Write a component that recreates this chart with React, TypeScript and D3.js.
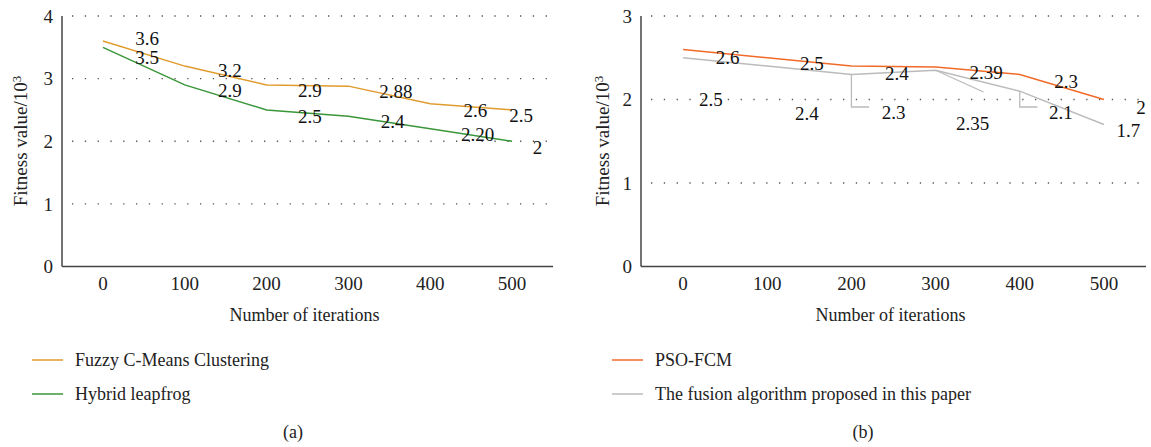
import React from "react";
import * as d3 from "d3";

const iterations = [0, 100, 200, 300, 400, 500];
const xTicks = [0, 100, 200, 300, 400, 500];

// Panel (a)
const fcmValues = [3.6, 3.2, 2.9, 2.88, 2.6, 2.5];
const leapfrogValues = [3.5, 2.9, 2.5, 2.4, 2.2, 2.0];
const yTicksA = [0, 1, 2, 3, 4];
// data labels: [x, y, text]
const fcmLabels: [number, number, string][] = [
  [54, 3.64, "3.6"], [155, 3.14, "3.2"], [253, 2.82, "2.9"], [358, 2.79, "2.88"], [455, 2.49, "2.6"], [511, 2.41, "2.5"],
];
const leapfrogLabels: [number, number, string][] = [
  [54, 3.34, "3.5"], [155, 2.82, "2.9"], [253, 2.39, "2.5"], [354, 2.31, "2.4"], [458, 2.11, "2.20"], [531, 1.91, "2"],
];

// Panel (b)
const psoValues = [2.6, 2.5, 2.4, 2.39, 2.3, 2.0];
const fusionValues = [2.5, 2.4, 2.3, 2.35, 2.1, 1.7];
const yTicksB = [0, 1, 2, 3];
const psoLabels: [number, number, string][] = [
  [53, 2.51, "2.6"], [153, 2.43, "2.5"], [254, 2.31, "2.4"], [360, 2.33, "2.39"], [455, 2.22, "2.3"], [544, 1.91, "2"],
];
const fusionLabels: [number, number, string][] = [
  [33, 2.0, "2.5"], [147, 1.83, "2.4"], [250, 1.85, "2.3"], [344, 1.71, "2.35"], [449, 1.85, "2.1"], [529, 1.63, "1.7"],
];
// leader lines of the fusion series labels (data coords)
const fusionLeaders: [number, number][][] = [
  [[200, 2.3], [200, 1.91], [221, 1.91]],
  [[300, 2.35], [357, 2.09]],
  [[400, 2.1], [400, 1.91], [421, 1.91]],
];

const FONT = "'Liberation Serif', 'Times New Roman', serif";

type Series = { values: number[]; color: string; labels: [number, number, string][]; name: string };

function Panel(props: {
  x0: number; x1: number; yMax: number; yTicks: number[]; series: Series[];
  leaders?: [number, number][][]; leaderColor?: string;
  yTitleX: number; legendX: number; captionX: number; caption: string;
}) {
  const { x0, x1, yMax, yTicks, series, leaders, leaderColor, yTitleX, legendX, captionX, caption } = props;
  const x = d3.scaleLinear().domain([-50, 550]).range([x0, x1]);
  const y = d3.scaleLinear().domain([0, yMax]).range([266.5, 16]);
  const line = d3.line<number>().x((_, i) => x(iterations[i])).y((d) => y(d));
  const lp = d3.line<[number, number]>().x((d) => x(d[0])).y((d) => y(d[1]));
  const cx = (x0 + x1) / 2;
  return (
    <g>
      {yTicks.filter((t) => t > 0).map((t) => (
        <line key={"g" + t} x1={x0 + 10} x2={x1} y1={y(t)} y2={y(t)} stroke="#555" strokeWidth={1.3} strokeDasharray="1.3 11.5" />
      ))}
      {yTicks.map((t) => (
        <text key={"yt" + t} x={x0 - 9} y={y(t)} dy="0.35em" textAnchor="end" fontSize={19} fontFamily={FONT} fill="#222">{t}</text>
      ))}
      {xTicks.map((t) => (
        <text key={"xt" + t} x={x(t)} y={290} textAnchor="middle" fontSize={19} fontFamily={FONT} fill="#222">{t}</text>
      ))}
      <line x1={x0} x2={x0} y1={16} y2={266.5} stroke="#444" strokeWidth={1.5} />
      <line x1={x0} x2={x1} y1={266.5} y2={266.5} stroke="#444" strokeWidth={1.5} />
      {leaders && leaders.map((l, i) => (
        <path key={"ld" + i} d={lp(l) || ""} fill="none" stroke={leaderColor} strokeWidth={1.3} />
      ))}
      {series.map((s, i) => (
        <path key={"s" + i} d={line(s.values) || ""} fill="none" stroke={s.color} strokeWidth={1.5} />
      ))}
      {series.map((s, i) => s.labels.map((l, j) => (
        <text key={"l" + i + "-" + j} x={x(l[0])} y={y(l[1])} dy="0.35em" textAnchor="middle" fontSize={19} fontFamily={FONT} fill="#111">{l[2]}</text>
      )))}
      <text transform={`translate(${yTitleX},141) rotate(-90)`} textAnchor="middle" dy="0.35em" fontSize={19} fontFamily={FONT} fill="#222">
        Fitness value/10<tspan dy="-0.45em" fontSize={13}>3</tspan>
      </text>
      <text x={cx - 3} y={321} textAnchor="middle" fontSize={18} fontFamily={FONT} fill="#222">Number of iterations</text>
      {series.map((s, i) => (
        <g key={"lg" + i}>
          <line x1={legendX} x2={legendX + 31} y1={360 + i * 34} y2={360 + i * 34} stroke={s.color} strokeWidth={1.5} />
          <text x={legendX + 43} y={360 + i * 34} dy="0.35em" fontSize={18} fontFamily={FONT} fill="#222">{s.name}</text>
        </g>
      ))}
      <text x={captionX} y={438} textAnchor="middle" fontSize={18} fontFamily={FONT} fill="#222">{caption}</text>
    </g>
  );
}

export default function App() {
  return (
    <svg width={1151} height={447} style={{ display: "block", position: "absolute", left: 0, top: 0, background: "#fff" }}>
      <Panel
        x0={62} x1={553} yMax={4} yTicks={yTicksA}
        series={[
          { values: fcmValues, color: "#E09B2D", labels: fcmLabels, name: "Fuzzy C-Means Clustering" },
          { values: leapfrogValues, color: "#3A963A", labels: leapfrogLabels, name: "Hybrid leapfrog" },
        ]}
        yTitleX={20} legendX={32} captionX={293} caption="(a)"
      />
      <Panel
        x0={641} x1={1146} yMax={3} yTicks={yTicksB}
        series={[
          { values: psoValues, color: "#F06A28", labels: psoLabels, name: "PSO-FCM" },
          { values: fusionValues, color: "#BBBBBB", labels: fusionLabels, name: "The fusion algorithm proposed in this paper" },
        ]}
        leaders={fusionLeaders} leaderColor="#BBBBBB"
        yTitleX={602} legendX={612} captionX={863} caption="(b)"
      />
    </svg>
  );
}
